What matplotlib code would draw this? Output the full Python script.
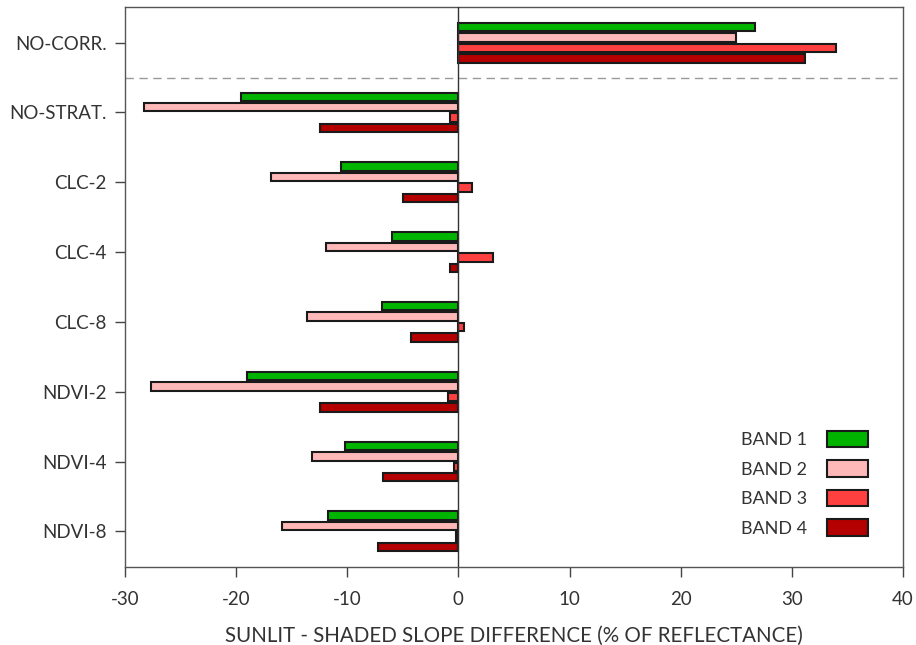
import matplotlib
matplotlib.use("Agg")
import matplotlib.pyplot as plt
import numpy as np

categories = ["NO-CORR.", "NO-STRAT.", "CLC-2", "CLC-4", "CLC-8", "NDVI-2", "NDVI-4", "NDVI-8"]
band_names = ["BAND 1", "BAND 2", "BAND 3", "BAND 4"]
band1 = [26.7, -19.6, -10.6, -6.0, -6.9, -19.0, -10.2, -11.7]
band2 = [25.0, -28.3, -16.9, -11.9, -13.6, -27.7, -13.2, -15.9]
band3 = [34.0, -0.8, 1.2, 3.1, 0.5, -0.9, -0.4, -0.2]
band4 = [31.2, -12.5, -5.0, -0.8, -4.3, -12.5, -6.8, -7.2]
x_ticks = [-30, -20, -10, 0, 10, 20, 30, 40]

colors = ["#00b400", "#ffb8b8", "#ff4040", "#b40000"]
text_color = "#333333"

plt.rcParams["font.family"] = ["Lato", "DejaVu Sans"]

fig = plt.figure(figsize=(9.16, 6.45), dpi=100)
ax = fig.add_axes([125 / 916, 1 - 567 / 645, (903 - 125) / 916, (567 - 7) / 645])

y = np.arange(len(categories))
step = 0.15
height = 0.12
for i, (vals, name, c) in enumerate(zip([band1, band2, band3, band4], band_names, colors)):
    offs = (i - 1.5) * step
    ax.barh(y + offs, vals, height=height, color=c, edgecolor="#1a1a1a",
            linewidth=1.5, label=name, zorder=3)

ax.axvline(0, color="#333333", linewidth=1.0, zorder=4)
ax.axhline(0.5, color="#999999", linewidth=1.0, linestyle=(0, (6, 4)), zorder=2)

ax.set_xlim(-30, 40)
ax.set_ylim(len(categories) - 0.5 + 0.01, -0.51)
ax.set_yticks(y)
ax.set_yticklabels(categories)
ax.set_xticks(x_ticks)
ax.set_xticklabels([str(t) for t in x_ticks])

ax.tick_params(axis="both", direction="out", length=7, width=1.0, color="#444444",
               labelsize=13.5, labelcolor=text_color, pad=6)
ax.tick_params(axis="x", pad=10)
for s in ax.spines.values():
    s.set_color("#555555")
    s.set_linewidth(1.0)

ax.set_xlabel("SUNLIT - SHADED SLOPE DIFFERENCE (% OF REFLECTANCE)", fontsize=14.8,
              color=text_color, labelpad=13)

leg = ax.legend(loc="lower right", bbox_to_anchor=(0.976, 0.025), frameon=False,
                markerfirst=False, fontsize=13, handlelength=2.3, handleheight=1.0,
                labelspacing=0.68, handletextpad=1.1)
for t in leg.get_texts():
    t.set_color(text_color)

fig.savefig("out.png", dpi=100)
